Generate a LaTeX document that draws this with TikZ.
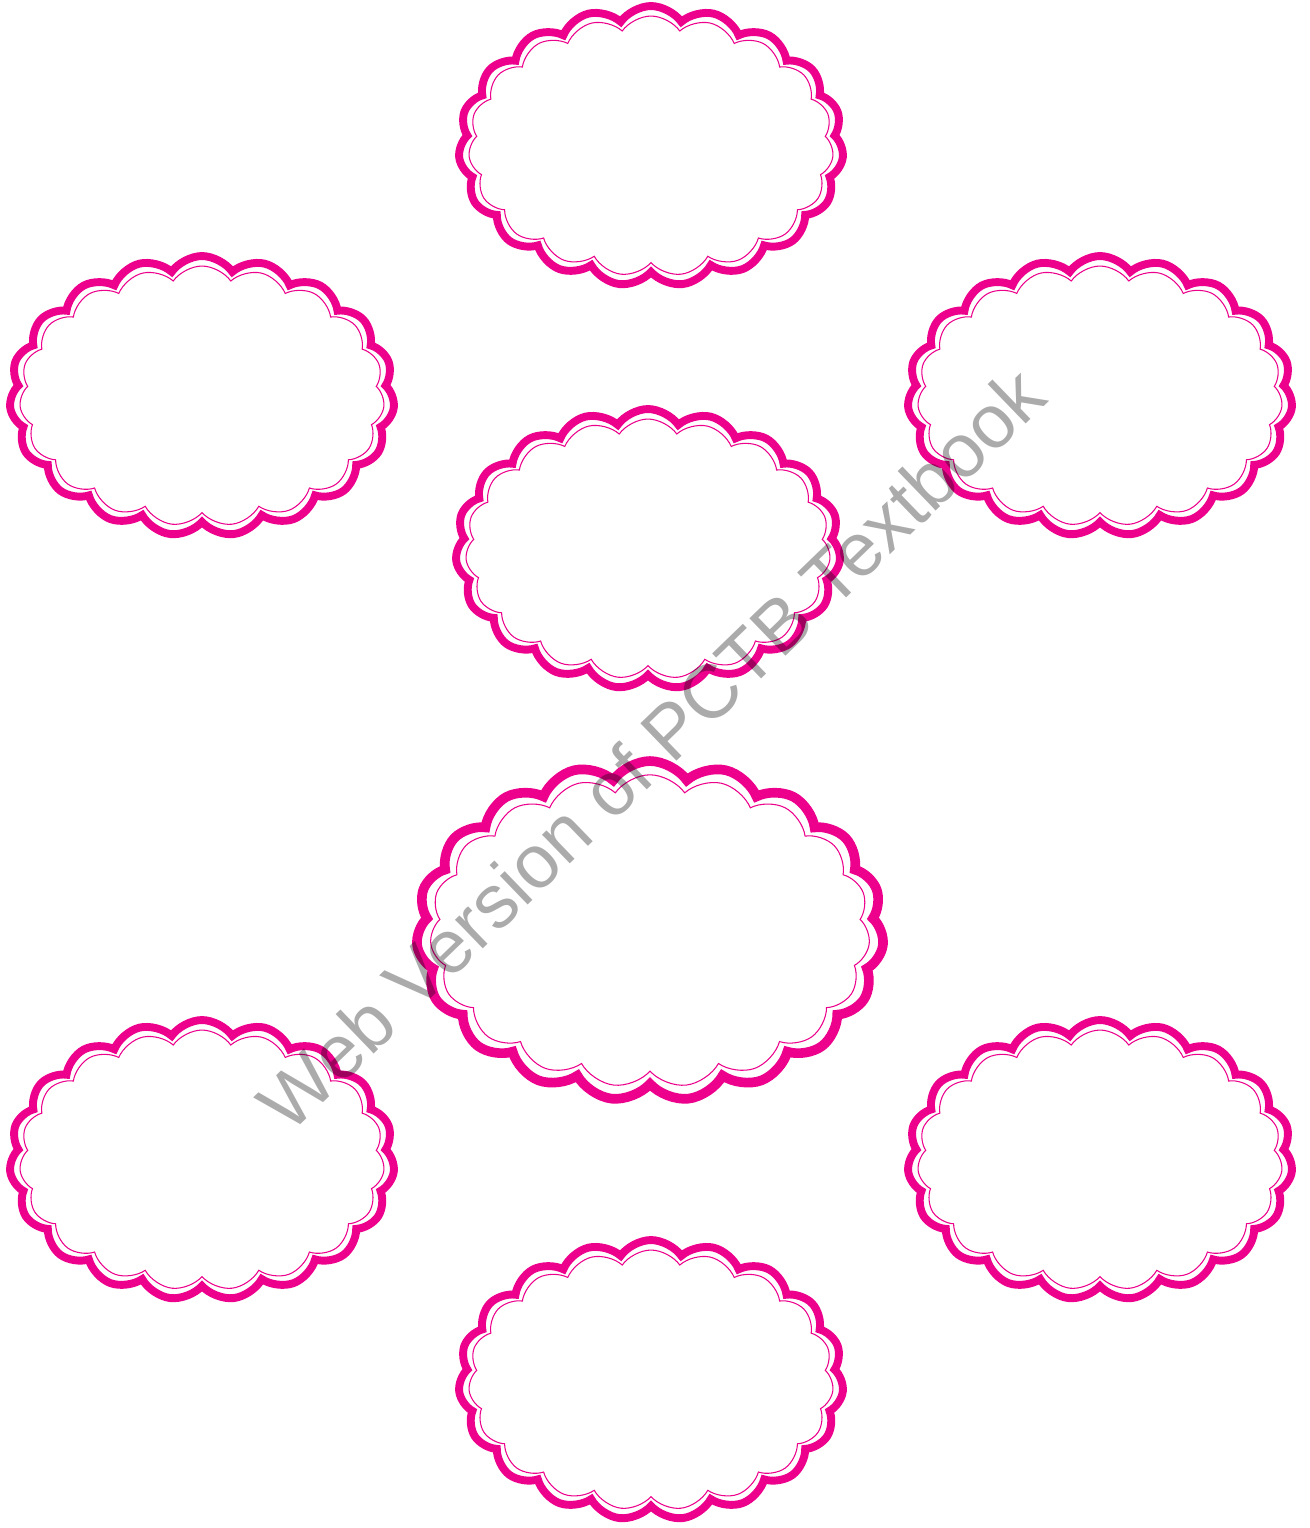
\documentclass[tikz,border=0pt]{standalone}
\usepackage{fontspec}
\setmainfont{Liberation Sans}
\usepackage{xcolor}
\usepackage{tikz}
\usetikzlibrary{shapes.symbols}

\definecolor{cloudpink}{RGB}{236,0,140}

\begin{document}
\begin{tikzpicture}[
  x=0.02cm, y=-0.02cm,
  puff/.style={cloud, cloud puffs=19, cloud puff arc=110, cloud ignores aspect,
    draw=cloudpink, fill=white, line width=4.5pt, minimum width=7.7cm, minimum height=5.6cm},
  puffin/.style={cloud, cloud puffs=19, cloud puff arc=110, cloud ignores aspect,
    draw=cloudpink, line width=0.6pt, minimum width=7.3cm, minimum height=5.2cm},
  watermark/.style={font=\fontsize{43}{43}\selectfont, text=black, text opacity=0.33, rotate=44, anchor=base}
]
\useasboundingbox (0,0) rectangle (1309,1528);

% small clouds
\foreach \name/\px/\py in {top/651/146, upleft/202/396, upright/1100/396, mid/648/549,
                           lowleft/202/1160, lowright/1100/1160, bottom/651/1380} {
  \node[puff] (\name) at (\px,\py) {};
  \node[puffin] (\name-in) at (\name) {};
}

% big cloud
\node[puff, line width=5.5pt, minimum width=9.35cm, minimum height=6.8cm] (big) at (650,931) {};
\node[puffin, minimum width=8.8cm, minimum height=6.25cm] (big-in) at (big) {};

\node[watermark] (wm) at (670,768) {Web Version of PCTB Textbook};
\end{tikzpicture}
\end{document}
